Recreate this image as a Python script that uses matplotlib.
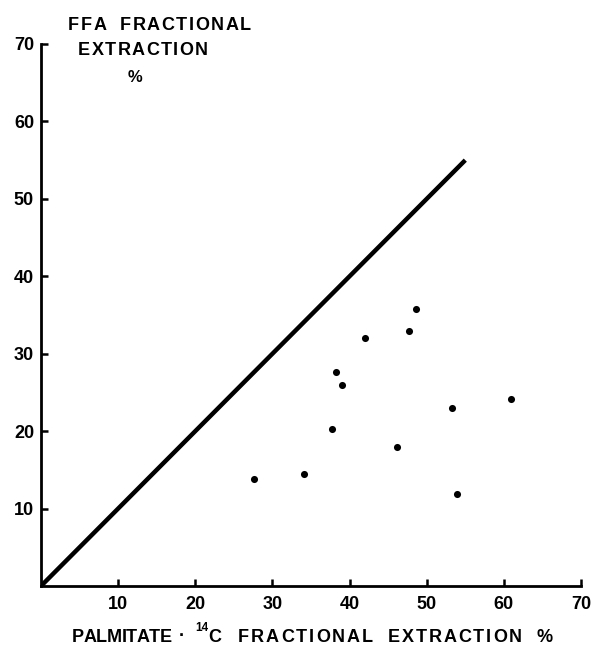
import matplotlib.pyplot as plt

# palmitate-14C vs FFA fractional extraction (%)
palmitate = [48.6, 47.7, 42.0, 38.3, 39.0, 60.9, 53.3, 37.7, 46.2, 34.1, 27.6, 53.9]
ffa = [35.8, 32.9, 32.0, 27.7, 26.0, 24.1, 23.0, 20.3, 18.0, 14.5, 13.8, 11.9]

# identity line
line_x = [0, 55]
line_y = [0, 55]

ticks = [10, 20, 30, 40, 50, 60, 70]

plt.rcParams['font.family'] = ['Liberation Sans', 'DejaVu Sans']
plt.rcParams['font.weight'] = 'bold'

W, H = 594, 645
fig = plt.figure(figsize=(W / 100, H / 100), dpi=100)
ax = fig.add_axes([41 / W, 59 / H, 540 / W, 542 / H])

ax.plot(line_x, line_y, color='black', linewidth=3.2, solid_capstyle='butt')
ax.scatter(palmitate, ffa, s=26, color='black', zorder=3, linewidths=0)

ax.set_xlim(0, 70)
ax.set_ylim(0, 70)
ax.spines['top'].set_visible(False)
ax.spines['right'].set_visible(False)
ax.spines['left'].set_linewidth(2)
ax.spines['bottom'].set_linewidth(2)

ax.set_xticks(ticks)
ax.set_yticks(ticks)
ax.set_xticklabels([str(t) for t in ticks], fontsize=13, fontweight='bold')
ax.set_yticklabels([str(t) for t in ticks], fontsize=13, fontweight='bold')
ax.tick_params(direction='in', length=5, width=1.8)
ax.tick_params(axis='x', pad=7)
ax.tick_params(axis='y', pad=5)

renderer = fig.canvas.get_renderer()


def tracked(s, x0, x1, y, size=13):
    # draw s letter by letter so that it spans x0..x1 pixels (letter-spaced)
    em = size * 100 / 72
    widths = []
    for ch in s:
        if ch == ' ':
            widths.append(0.25 * em)
        else:
            t = fig.text(0, 0, ch, fontsize=size, fontweight='bold')
            widths.append(t.get_window_extent(renderer).width)
            t.remove()
    gap = (x1 - x0 - sum(widths)) / max(len(s) - 1, 1)
    x = x0
    for ch, w in zip(s, widths):
        if ch != ' ':
            fig.text(x / W, 1 - y / H, ch, fontsize=size, fontweight='bold',
                     ha='left', va='baseline')
        x += w + gap


# y-axis title, top left
tracked('FFA  FRACTIONAL', 68, 251, 30)
tracked('EXTRACTION', 78, 208, 55)
tracked('%', 128, 143, 82, size=12)

# x-axis title
tracked('PALMITATE', 72, 172, 642)
fig.text(179 / W, 1 - 636 / H, '.', fontsize=13, fontweight='bold', ha='left', va='baseline')
fig.text(195 / W, 1 - 631 / H, '14', fontsize=8.5, fontweight='bold', ha='left', va='baseline')
fig.text(208 / W, 1 - 642 / H, 'C', fontsize=13, fontweight='bold', ha='left', va='baseline')
tracked('FRACTIONAL  EXTRACTION  %', 238, 553, 642)

fig.savefig('out.png', dpi=100)
plt.close(fig)
